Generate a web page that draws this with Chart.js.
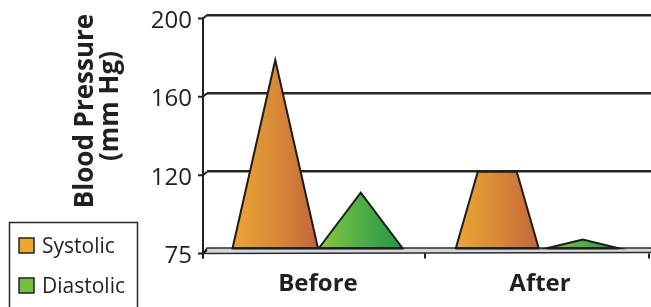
<!DOCTYPE html>
<html><head><meta charset="utf-8">
<script src="https://cdn.jsdelivr.net/npm/chart.js@4/dist/chart.umd.min.js"></script>
<style>html,body{margin:0;padding:0;background:#fff;overflow:hidden}#wrap{width:651px;height:307px;position:relative}</style>
</head><body><div id="wrap"><canvas id="c" width="651" height="307"></canvas></div>
<script>
// ---- data ----
const categories = ['Before', 'After'];
const systolic = [177, 120];
const diastolic = [108, 81];
const yTicks = [75, 120, 160, 200];
const seriesNames = ['Systolic', 'Diastolic'];
const yTitle = ['Blood Pressure', '(mm Hg)'];

const INK = '#231f20';
const FONT = '"Open Sans", "DejaVu Sans", sans-serif';

// y scale with equally spaced (piecewise linear) tick segments
class PiecewiseScale extends Chart.LinearScale {
  buildTicks() { return yTicks.map(v => ({ value: v })); }
  getPixelForValue(value) {
    const b = yTicks, n = b.length - 1;
    let i = 0;
    while (i < n - 1 && value > b[i + 1]) i++;
    const dec = (i + (value - b[i]) / (b[i + 1] - b[i])) / n;
    return this.getPixelForDecimal(dec);
  }
  getValueForPixel(pixel) {
    const b = yTicks, n = b.length - 1;
    const d = this.getDecimalForPixel(pixel) * n;
    const i = Math.max(0, Math.min(n - 1, Math.floor(d)));
    return b[i] + (d - i) * (b[i + 1] - b[i]);
  }
}
PiecewiseScale.id = 'piecewise';
PiecewiseScale.defaults = Chart.LinearScale.defaults;
Chart.register(PiecewiseScale);

const DX = 4, DY = 3.5; // 3D front offset

const conePlugin = {
  id: 'cones',
  beforeDatasetsDraw(chart) {
    const ctx = chart.ctx, a = chart.chartArea;
    const y = chart.scales.y.getPixelForValue(yTicks[0]);
    ctx.save();
    ctx.fillStyle = '#d4d6d8';
    ctx.strokeStyle = '#2a2d30';
    ctx.lineWidth = 1.5;
    ctx.beginPath();
    ctx.moveTo(a.left, y - 2);
    ctx.lineTo(a.right + 2, y - 2);
    ctx.lineTo(a.right + 2, y + 2.5);
    ctx.lineTo(a.left - DX, y + DY);
    ctx.closePath();
    ctx.fill();
    ctx.stroke();
    ctx.restore();
  },
  afterDatasetsDraw(chart) {
    const ctx = chart.ctx;
    ctx.save();
    chart.data.datasets.forEach((ds, di) => {
      const meta = chart.getDatasetMeta(di);
      meta.data.forEach((bar, i) => {
        const p = bar.getProps(['x', 'y', 'base', 'width'], true);
        const hw = p.width / 2 * ds.coneWidth[i];
        const tw = hw * ds.coneTop[i];
        const bottom = p.base - 0.5;
        const g = ctx.createLinearGradient(p.x - hw, 0, p.x + hw, 0);
        g.addColorStop(0, ds.coneColors[0]);
        g.addColorStop(0.5, ds.coneColors[1]);
        g.addColorStop(1, ds.coneColors[2]);
        ctx.beginPath();
        ctx.moveTo(p.x - hw, bottom);
        ctx.lineTo(p.x - tw, p.y);
        if (tw > 0) ctx.lineTo(p.x + tw, p.y);
        ctx.lineTo(p.x + hw, bottom);
        ctx.closePath();
        ctx.fillStyle = g;
        ctx.fill();
        ctx.lineWidth = 2;
        ctx.lineJoin = 'miter';
        ctx.strokeStyle = '#1c1c1c';
        ctx.stroke();
        ctx.beginPath();
        ctx.moveTo(p.x - hw, bottom);
        ctx.lineTo(p.x + hw, bottom);
        ctx.lineWidth = 2.5;
        ctx.strokeStyle = 'rgba(30,30,30,0.8)';
        ctx.stroke();
      });
    });
    ctx.restore();
  },
  afterDraw(chart) {
    const ctx = chart.ctx, a = chart.chartArea;
    const ys = chart.scales.y, xs = chart.scales.x;
    ctx.save();
    ctx.strokeStyle = '#1f2124';
    ctx.lineWidth = 2;
    const fx = a.left - DX;
    const topY = ys.getPixelForValue(yTicks[yTicks.length - 1]) + DY;
    const botY = ys.getPixelForValue(yTicks[0]) + DY;
    ctx.beginPath();
    ctx.moveTo(fx, topY - 1);
    ctx.lineTo(fx, botY + 5);
    ctx.stroke();
    yTicks.forEach(v => {
      const gy = ys.getPixelForValue(v);
      ctx.beginPath();
      ctx.moveTo(fx - 5, gy + DY);
      ctx.lineTo(fx, gy + DY);
      ctx.lineTo(a.left, gy);
      ctx.stroke();
    });
    const n = categories.length;
    for (let i = 0; i <= n; i++) {
      let bx;
      if (i === 0) bx = a.left - DX;
      else if (i === n) bx = a.right - 2;
      else bx = (xs.getPixelForTick(i - 1) + xs.getPixelForTick(i)) / 2 - DX;
      ctx.beginPath();
      ctx.moveTo(bx, botY);
      ctx.lineTo(bx, botY + 5);
      ctx.stroke();
    }
    // y axis title
    ctx.fillStyle = INK;
    ctx.font = 'bold 26px ' + FONT;
    ctx.textAlign = 'center';
    ctx.textBaseline = 'alphabetic';
    ctx.save();
    ctx.translate(93, 111);
    ctx.rotate(-Math.PI / 2);
    ctx.fillText(yTitle[0], 0, 0);
    ctx.restore();
    ctx.save();
    ctx.translate(118, 106);
    ctx.rotate(-Math.PI / 2);
    ctx.fillText(yTitle[1], 0, 0);
    ctx.restore();
    // legend
    ctx.lineWidth = 1.5;
    ctx.strokeStyle = '#2a2a2a';
    ctx.strokeRect(9.5, 222.5, 128, 120);
    ctx.font = '21px ' + FONT;
    ctx.textAlign = 'left';
    ctx.textBaseline = 'middle';
    chart.data.datasets.forEach((ds, di) => {
      const cy = 246 + di * 40;
      ctx.fillStyle = ds.legendColor;
      ctx.fillRect(19, cy - 8, 15, 15);
      ctx.lineWidth = 1.5;
      ctx.strokeStyle = '#222';
      ctx.strokeRect(19, cy - 8, 15, 15);
      ctx.fillStyle = INK;
      ctx.fillText(ds.label, 42, cy + 1);
    });
    ctx.restore();
  }
};

new Chart(document.getElementById('c'), {
  type: 'bar',
  data: {
    labels: categories,
    datasets: [
      { label: seriesNames[0], data: systolic, base: yTicks[0], backgroundColor: 'rgba(0,0,0,0)', borderWidth: 0,
        coneColors: ['#eca534', '#d88a37', '#c2663b'], legendColor: '#eaa830',
        coneTop: [0, 0.47], coneWidth: [1, 0.97] },
      { label: seriesNames[1], data: diastolic, base: yTicks[0], backgroundColor: 'rgba(0,0,0,0)', borderWidth: 0,
        coneColors: ['#86c943', '#4fae45', '#28954a'], legendColor: '#72bf44',
        coneTop: [0, 0], coneWidth: [0.98, 0.84] }
    ]
  },
  options: {
    responsive: false,
    animation: false,
    devicePixelRatio: 1,
    categoryPercentage: 0.77,
    barPercentage: 1,
    layout: { padding: { top: 15, right: 0, bottom: 0, left: 0 } },
    plugins: { legend: { display: false }, tooltip: { enabled: false } },
    scales: {
      x: {
        grid: { display: false },
        border: { display: false },
        ticks: { color: INK, font: { family: FONT, size: 24, weight: 'bold' }, padding: 12, maxRotation: 0 },
        afterFit(s) { s.height = 57; s.paddingLeft = 0; s.paddingRight = 0; }
      },
      y: {
        type: 'piecewise',
        min: 75, max: 200,
        z: 1,
        border: { display: false },
        grid: {
          drawTicks: false,
          lineWidth: 2.5,
          color: c => (c.tick && c.tick.value === yTicks[0]) ? 'rgba(0,0,0,0)' : '#23262a'
        },
        ticks: { color: INK, font: { family: FONT, size: 24 }, padding: 15, labelOffset: 6 },
        afterFit(s) { s.width = 207; s.paddingTop = 0; s.paddingBottom = 0; }
      }
    }
  },
  plugins: [conePlugin]
});
</script>
</body></html>
